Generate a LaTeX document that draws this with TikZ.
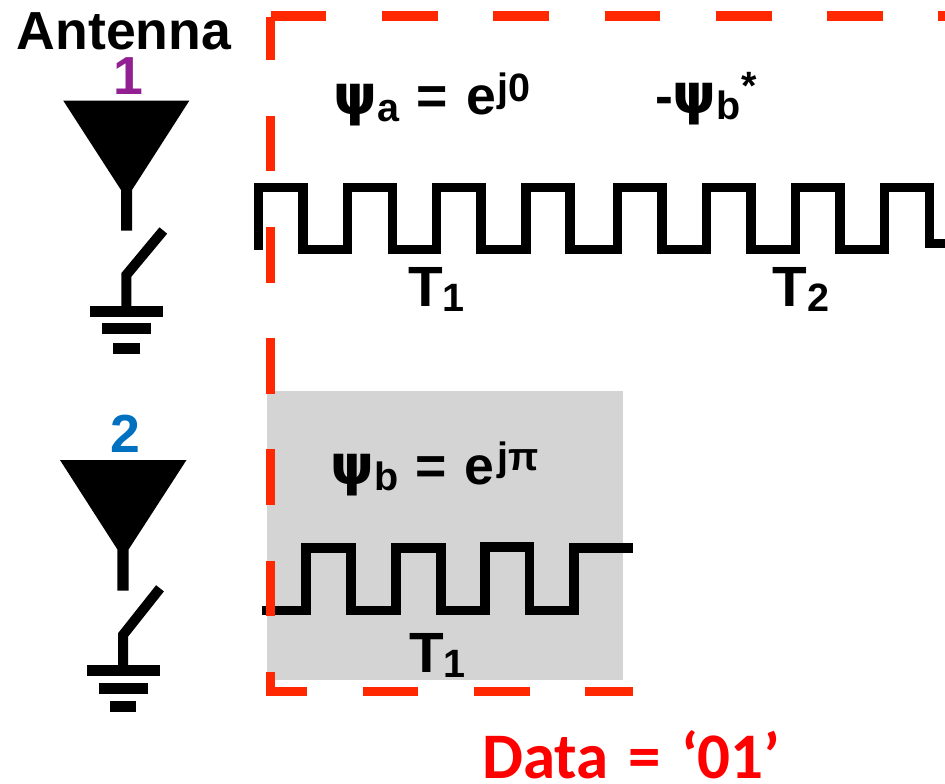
\documentclass[tikz,border=0pt]{standalone}
\usepackage{fontspec}
\setmainfont{Liberation Sans}
\newfontfamily\datafont{Carlito}
\newfontfamily\psifont{DejaVu Sans}
\newcommand{\bigsize}{\fontsize{30.5}{32}\bfseries\selectfont}
\newcommand{\subsize}{\fontsize{22.5}{24}\bfseries\selectfont}
\tikzset{
	wave/.style={draw=black,line width=0.19cm},
	redbox/.style={draw=boxred,line width=0.186cm,dash pattern=on 1.114cm off 1.112cm},
	lab/.style={anchor=base west,inner sep=0pt,font=\bigsize},
	psi/.style={anchor=base west,inner sep=0pt,font=\psifont\fontsize{31.5}{33}\bfseries\selectfont},
	small/.style={anchor=base west,inner sep=0pt,font=\subsize},
	tlab/.style={anchor=base west,inner sep=0pt,font=\fontsize{32.3}{34}\bfseries\selectfont},
	num/.style={anchor=base,inner sep=0pt,font=\fontsize{30.5}{32}\bfseries\selectfont},
}
\definecolor{boxred}{RGB}{255,40,0}
\definecolor{onepurple}{RGB}{146,32,146}
\definecolor{twoblue}{RGB}{0,112,192}
\definecolor{panelgrey}{RGB}{212,212,212}
\begin{document}
\begin{tikzpicture}[x=0.02cm,y=-0.02cm]
\useasboundingbox (0,0) rectangle (945,783);

\fill[panelgrey] (267,391) rectangle (623,680);

% waveforms
\draw[wave] (258.5,250) -- (258.5,187.5) -- (303,187.5) -- (303,249.5) -- (347.6,249.5) -- (347.6,187.5)
	-- (392.3,187.5) -- (392.3,249.5) -- (436.7,249.5) -- (436.7,187.5) -- (481,187.5) -- (481,249.5)
	-- (526,249.5) -- (526,187.5) -- (570,187.5) -- (570,249.5) -- (617.7,249.5) -- (617.7,187.5)
	-- (662,187.5) -- (662,249.5) -- (706.7,249.5) -- (706.7,187.5) -- (751,187.5) -- (751,249.5)
	-- (795.7,249.5) -- (795.7,187.5) -- (840,187.5) -- (840,249.5) -- (884.7,249.5) -- (884.7,187.5)
	-- (929.7,187.5) -- (929.7,243.7) -- (945,243.7);
\draw[wave] (261.6,610.7) -- (306,610.7) -- (306,548) -- (351,548) -- (351,610.7) -- (396,610.7)
	-- (396,548) -- (441,548) -- (441,610.7) -- (485,610.7) -- (485,547) -- (529.5,547) -- (529.5,610.7)
	-- (574,610.7) -- (574,548) -- (633,548);

% dashed box
\draw[redbox] (270.7,16) -- (945,16);
\draw[redbox,dash phase=0.248cm] (270.7,16.7) -- (270.7,691.3) -- (633,691.3);

% antenna 1
\fill (63.3,100.7) -- (189.3,100.7) -- (132,190) -- (132,230.7) -- (121,230.7) -- (121,190) -- cycle;
\draw[line width=0.2cm] (126.3,306) -- (126.3,275) -- (163.3,230.5);
\fill (90,306) rectangle (162.7,316.7);
\fill (102,323.3) rectangle (150.7,334.3);
\fill (113,343) rectangle (139.7,353.7);

% antenna 2
\fill (60,460) -- (186.5,460) -- (128.7,549.3) -- (128.7,590.7) -- (117.3,590.7) -- (117.3,549.3) -- cycle;
\draw[line width=0.2cm] (123,665) -- (123,635) -- (160,588.3);
\fill (86.5,665.3) rectangle (159.5,676);
\fill (99,683) rectangle (147.7,693.7);
\fill (109.7,701) rectangle (136.3,711.7);

% labels
\node[num] (antenna) at (124,50) {Antenna};
\node[num,text=onepurple] (one) at (128,95) {1};
\node[num,text=twoblue] (two) at (125,452.7) {2};

\node[psi] (psia) at (333,115) {ψ};
\node[small] (psiasub) at (377,121.7) {a};
\node[lab] (psiaeq) at (416,115) {=};
\node[lab] (psiae) at (466,115) {e};
\node[small] (psiaexp) at (497,101.5) {j0};

\node[lab] (minus) at (655,115) {-};
\node[psi] (psiconj) at (672,114) {ψ};
\node[small] (psiconjsub) at (716,120) {b};
\node[small] (psiconjstar) at (741,100) {*};

\node[psi] (psib) at (330,484) {ψ};
\node[small] (psibsub) at (374,490.7) {b};
\node[lab] (psibeq) at (415,484) {=};
\node[lab] (psibe) at (464,484) {e};
\node[small] (psibexp) at (497,470) {jπ};

\node[tlab] (tone) at (408,306.7) {T};
\node[small] (tonesub) at (442,312) {1};
\node[tlab] (ttwo) at (772,306.7) {T};
\node[small] (ttwosub) at (807,312) {2};
\node[tlab] (tthree) at (409,672.7) {T};
\node[small] (tthreesub) at (443,677) {1};

\node[anchor=base west,inner sep=0pt,text=red,font=\datafont\fontsize{37}{39}\bfseries\selectfont] (data) at (482,778) {Data\hspace{0.08em} = \hspace{0.08em}‘01’};
\end{tikzpicture}
\end{document}
